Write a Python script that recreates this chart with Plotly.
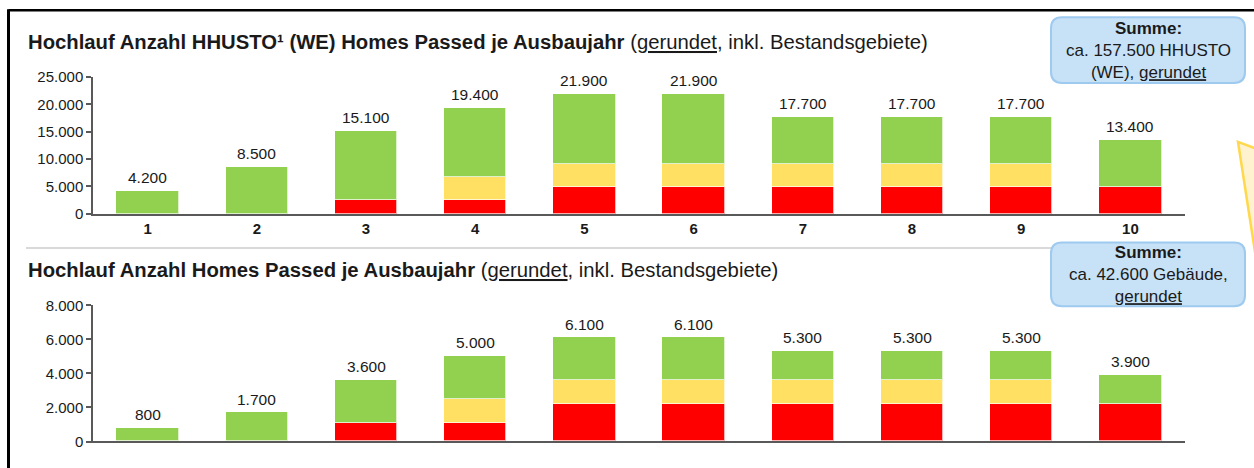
import plotly.graph_objects as go

W, H = 1254, 468
# the page adds 8px above and below the figure and the photo is fitted back to H,
# so page positions are mapped through this factor
OY = 8
K = (H + 2 * OY) / H

# ---------------- data ----------------
years = [1, 2, 3, 4, 5, 6, 7, 8, 9, 10]
year_labels = ["1", "2", "3", "4", "5", "6", "7", "8", "9", "10"]

top_red = [0, 0, 2400, 2400, 4800, 4800, 4800, 4800, 4800, 4800]
top_yellow = [0, 0, 0, 4300, 4300, 4300, 4300, 4300, 4300, 0]
top_green = [4200, 8500, 12700, 12700, 12800, 12800, 8600, 8600, 8600, 8600]

bot_red = [0, 0, 1100, 1100, 2200, 2200, 2200, 2200, 2200, 2200]
bot_yellow = [0, 0, 0, 1400, 1400, 1400, 1400, 1400, 1400, 0]
bot_green = [800, 1700, 2500, 2500, 2500, 2500, 1700, 1700, 1700, 1700]

top_ticks = [0, 5000, 10000, 15000, 20000, 25000]
bot_ticks = [0, 2000, 4000, 6000, 8000]

title_top_bold = "Hochlauf Anzahl HHUSTO¹ (WE) Homes Passed je Ausbaujahr"
title_bot_bold = "Hochlauf Anzahl Homes Passed je Ausbaujahr"
title_rest = " (<u>gerundet</u>, inkl. Bestandsgebiete)"
box_top_text = "<b>Summe:</b><br>ca. 157.500 HHUSTO<br>(WE), <u>gerundet</u>"
box_bot_text = "<b>Summe:</b><br>ca. 42.600 Gebäude,<br><u>gerundet</u>"

# ---------------- style ----------------
FONT = "Liberation Sans, Arial, sans-serif"
GREEN = "#92d050"
YELLOW = "#ffe063"
RED = "#ff0000"
AXIS = "#595959"
TXT = "#1a1a1a"


def px(x):
    return x / W


def py(y):
    return 1 - (y * K - OY) / H


fig = go.Figure()

for (r, yl, g, xa, ya) in [(top_red, top_yellow, top_green, "x", "y"),
                           (bot_red, bot_yellow, bot_green, "x2", "y2")]:
    for vals, col in [(r, RED), (yl, YELLOW), (g, GREEN)]:
        fig.add_trace(go.Bar(
            x=years, y=vals, xaxis=xa, yaxis=ya, width=0.57,
            marker=dict(color=col, line=dict(color="rgba(255,255,255,0.7)", width=1)),
            showlegend=False, hoverinfo="skip"))

# total labels
for (r, yl, g, xa, ya) in [(top_red, top_yellow, top_green, "x", "y"),
                           (bot_red, bot_yellow, bot_green, "x2", "y2")]:
    for xi, a, b, c in zip(years, r, yl, g):
        tot = a + b + c
        fig.add_annotation(x=xi, y=tot, xref=xa, yref=ya, text=f"{tot:,}".replace(",", "."),
                           showarrow=False, yanchor="bottom", yshift=3,
                           font=dict(family=FONT, size=15.5, color=TXT))

xdom = [px(93), px(1185)]
common_y = dict(showgrid=False, zeroline=False, showline=True, linecolor=AXIS, linewidth=1.5,
                ticks="outside", ticklen=5, tickcolor=AXIS, tickwidth=1.5,
                tickformat=",d", tickfont=dict(family=FONT, size=15, color=TXT))
fig.update_layout(
    width=W, height=H, margin=dict(l=0, r=0, t=0, b=0),
    paper_bgcolor="white", plot_bgcolor="white",
    barmode="stack", bargap=0, separators=",.",
    font=dict(family=FONT, color=TXT),
    xaxis=dict(domain=xdom, range=[0.5, 10.5], showgrid=False, zeroline=False,
               showline=True, linecolor=AXIS, linewidth=2, ticks="",
               tickvals=years, ticktext=[f"<b>{t}</b>" for t in year_labels],
               tickfont=dict(family=FONT, size=15, color=TXT), anchor="y"),
    yaxis=dict(domain=[py(213), py(76)], range=[0, 25000], tickvals=top_ticks,
               anchor="x", **common_y),
    xaxis2=dict(domain=xdom, range=[0.5, 10.5], showgrid=False, zeroline=False,
                showline=True, linecolor=AXIS, linewidth=2, ticks="",
                showticklabels=False, anchor="y2"),
    yaxis2=dict(domain=[py(441.7), py(305)], range=[0, 8000], tickvals=bot_ticks,
                anchor="x2", **common_y),
)

# titles
for ttl, yc in [(title_top_bold, 41), (title_bot_bold, 270)]:
    fig.add_annotation(xref="paper", yref="paper", x=px(25.5), y=py(yc), xanchor="left",
                       yanchor="middle", showarrow=False,
                       text=f"<b>{ttl}</b>{title_rest}",
                       font=dict(family=FONT, size=20.3, color=TXT))

shapes = []
# frame lines
shapes.append(dict(type="line", xref="paper", yref="paper", x0=px(8.5), x1=px(1260),
                   y0=py(9), y1=py(9), line=dict(color="black", width=2.5)))
shapes.append(dict(type="line", xref="paper", yref="paper", x0=px(8.5), x1=px(8.5),
                   y0=py(8), y1=py(480), line=dict(color="black", width=3)))
# separator
shapes.append(dict(type="line", xref="paper", yref="paper", x0=px(26), x1=px(1245),
                   y0=py(247.5), y1=py(247.5), line=dict(color="#d9d9d9", width=2)))
# yellow callout (partly off canvas)
shapes.append(dict(type="path", xref="paper", yref="paper",
                   path=f"M {px(1238)} {py(141)} L {px(1275)} {py(155)} L {px(1275)} {py(300)} L {px(1256)} {py(258)} Z",
                   fillcolor="#fff3cf", line=dict(color="#ffd84d", width=2.5)))


def rounded(x0, y0, x1, y1, r):
    pts = [
        f"M {px(x0 + r)} {py(y0)}",
        f"L {px(x1 - r)} {py(y0)}",
        f"Q {px(x1)} {py(y0)} {px(x1)} {py(y0 + r)}",
        f"L {px(x1)} {py(y1 - r)}",
        f"Q {px(x1)} {py(y1)} {px(x1 - r)} {py(y1)}",
        f"L {px(x0 + r)} {py(y1)}",
        f"Q {px(x0)} {py(y1)} {px(x0)} {py(y1 - r)}",
        f"L {px(x0)} {py(y0 + r)}",
        f"Q {px(x0)} {py(y0)} {px(x0 + r)} {py(y0)}",
        "Z",
    ]
    return " ".join(pts)


for (y0, y1) in [(16, 82), (242, 306)]:
    shapes.append(dict(type="path", xref="paper", yref="paper",
                       path=rounded(1051, y0, 1245, y1, 11),
                       fillcolor="#c7e1f7", line=dict(color="#9ecaf0", width=2)))

fig.update_layout(shapes=shapes)

for txt, yc in [(box_top_text, 49.5), (box_bot_text, 274.5)]:
    fig.add_annotation(xref="paper", yref="paper", x=px(1148), y=py(yc), xanchor="center",
                       yanchor="middle", showarrow=False, align="center", text=txt,
                       font=dict(family=FONT, size=17, color=TXT))

fig.write_html("out.html", config={"displayModeBar": False},
               post_script="document.body.style.margin='0';document.body.style.overflow='hidden';")
